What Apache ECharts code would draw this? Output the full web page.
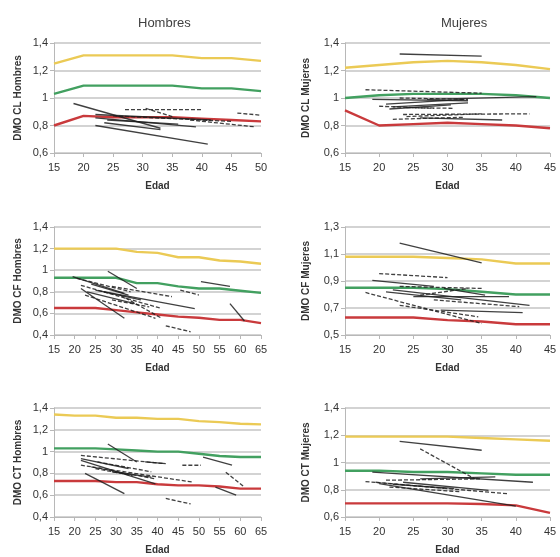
<!DOCTYPE html>
<html>
<head>
<meta charset="utf-8">
<script src="https://cdn.jsdelivr.net/npm/echarts@6/dist/echarts.min.js"></script>
<style>
  html, body { margin: 0; padding: 0; background: #fff; }
  #chart { width: 560px; height: 557px; }
</style>
</head>
<body>
<div id="chart"></div>
<script>
// ages for the reference curves
const agesA = [15, 20, 25, 30, 35, 40, 45, 50];
const agesB = [15, 20, 25, 30, 35, 40, 45];
const agesC = [15, 20, 25, 30, 35, 40, 45, 50, 55, 60, 65];

// DMO CL Hombres
const clHomP97 = [1.25, 1.31, 1.31, 1.31, 1.31, 1.29, 1.29, 1.27];
const clHomP50 = [1.03, 1.09, 1.09, 1.09, 1.09, 1.07, 1.07, 1.05];
const clHomP3  = [0.80, 0.87, 0.86, 0.86, 0.86, 0.85, 0.84, 0.83];
// DMO CL Mujeres
const clMujP97 = [1.22, 1.24, 1.26, 1.27, 1.26, 1.24, 1.21];
const clMujP50 = [1.00, 1.02, 1.03, 1.03, 1.03, 1.02, 1.00];
const clMujP3  = [0.91, 0.80, 0.81, 0.82, 0.81, 0.80, 0.78];
// DMO CF Hombres
const cfHomP97 = [1.20, 1.20, 1.20, 1.20, 1.17, 1.16, 1.12, 1.12, 1.09, 1.08, 1.06];
const cfHomP50 = [0.93, 0.93, 0.93, 0.93, 0.88, 0.88, 0.85, 0.83, 0.83, 0.81, 0.79];
const cfHomP3  = [0.65, 0.65, 0.65, 0.63, 0.61, 0.59, 0.57, 0.56, 0.54, 0.54, 0.51];
// DMO CF Mujeres
const cfMujP97 = [1.08, 1.08, 1.08, 1.07, 1.06, 1.03, 1.03];
const cfMujP50 = [0.85, 0.85, 0.85, 0.84, 0.82, 0.80, 0.80];
const cfMujP3  = [0.63, 0.63, 0.63, 0.61, 0.60, 0.58, 0.58];
// DMO CT Hombres
const ctHomP97 = [1.34, 1.33, 1.33, 1.31, 1.31, 1.30, 1.30, 1.28, 1.27, 1.255, 1.25];
const ctHomP50 = [1.03, 1.03, 1.03, 1.02, 1.01, 1.00, 1.00, 0.98, 0.96, 0.95, 0.95];
const ctHomP3  = [0.73, 0.73, 0.73, 0.72, 0.72, 0.70, 0.69, 0.69, 0.68, 0.66, 0.66];
// DMO CT Mujeres
const ctMujP97 = [1.19, 1.19, 1.19, 1.19, 1.18, 1.17, 1.16];
const ctMujP50 = [0.94, 0.94, 0.93, 0.93, 0.92, 0.91, 0.91];
const ctMujP3  = [0.70, 0.70, 0.70, 0.70, 0.695, 0.685, 0.63];

// individual follow-ups: [edad1, dmo1, edad2, dmo2]
const clHomSeg = [
  [18.3, 0.96, 33, 0.78], [27, 0.915, 40, 0.915], [22, 0.80, 41, 0.665], [46, 0.89, 50, 0.875],
  [22, 0.855, 39, 0.79], [30.5, 0.925, 35, 0.865], [22, 0.88, 41.5, 0.84], [38, 0.84, 49, 0.79],
  [23.5, 0.82, 33, 0.77], [25, 0.87, 45, 0.83], [24, 0.84, 36, 0.81]
];
const clMujSeg = [
  [23, 1.32, 35, 1.305], [18, 1.06, 35, 1.035], [19, 0.99, 33, 0.98], [20, 0.94, 28, 0.925],
  [21, 0.955, 32.5, 0.99], [23.5, 0.88, 42, 0.885], [26, 0.855, 38, 0.84], [24, 0.865, 35, 0.885],
  [21.5, 0.92, 30.5, 0.95], [23, 1.0, 33, 0.99], [27, 0.99, 43, 1.01], [22, 0.845, 32.5, 0.86],
  [22, 0.935, 33, 0.965], [24, 0.93, 31, 0.925]
];
const cfHomSeg = [
  [19.5, 0.94, 32, 0.785], [21.5, 0.86, 41, 0.645], [21.5, 0.83, 32, 0.555], [22.5, 0.77, 39.5, 0.555],
  [25, 0.815, 49, 0.645], [29, 0.85, 43.5, 0.755], [28, 0.99, 35, 0.83], [31, 0.77, 41, 0.555],
  [50.5, 0.895, 57.5, 0.85], [45.5, 0.815, 50, 0.77], [57.5, 0.69, 61, 0.53], [42, 0.485, 48, 0.43],
  [27, 0.80, 36, 0.725], [20.5, 0.925, 33.5, 0.80], [23, 0.80, 34.5, 0.69], [29, 0.725, 38, 0.66],
  [24, 0.87, 33, 0.77]
];
const cfMujSeg = [
  [23, 1.18, 35, 1.035], [20, 0.955, 30, 0.925], [19, 0.905, 28, 0.86], [18, 0.815, 35, 0.585],
  [22, 0.835, 42, 0.72], [23, 0.72, 34.5, 0.635], [29, 0.685, 41, 0.665], [23, 0.86, 35, 0.845],
  [25, 0.785, 39, 0.785], [26, 0.795, 33, 0.845], [21, 0.82, 32, 0.76], [28, 0.76, 40.5, 0.71],
  [29.5, 0.845, 35.5, 0.795]
];
const ctHomSeg = [
  [28, 1.07, 35, 0.905], [21.5, 0.965, 41.5, 0.89], [21.5, 0.92, 39.5, 0.705], [21.5, 0.875, 48.5, 0.72],
  [22.5, 0.80, 32, 0.615], [24, 0.86, 39.5, 0.75], [29, 0.815, 38.5, 0.765], [46, 0.875, 50.5, 0.875],
  [51, 0.95, 58, 0.875], [56.5, 0.81, 61, 0.675], [54, 0.675, 59, 0.60], [42, 0.57, 48, 0.52],
  [37, 0.905, 42, 0.89], [25, 0.845, 34, 0.78], [21.5, 0.935, 33, 0.845], [25.5, 0.905, 38.5, 0.815]
];
const ctMujSeg = [
  [23, 1.155, 35, 1.09], [26, 1.10, 34, 0.88], [19, 0.93, 42.5, 0.855], [18, 0.86, 39, 0.77],
  [20, 0.845, 40, 0.68], [21, 0.87, 35, 0.88], [26, 0.88, 37, 0.895], [21.5, 0.82, 32, 0.785],
  [23.5, 0.855, 36, 0.795], [19.5, 0.855, 29.5, 0.81], [22, 0.84, 31, 0.81]
];

const panels = [
  { name: 'DMO CL Hombres', ages: agesA, p97: clHomP97, p50: clHomP50, p3: clHomP3, seg: clHomSeg, xMax: 50, yMin: 0.6, yMax: 1.4 },
  { name: 'DMO CL Mujeres', ages: agesB, p97: clMujP97, p50: clMujP50, p3: clMujP3, seg: clMujSeg, xMax: 45, yMin: 0.6, yMax: 1.4 },
  { name: 'DMO CF Hombres', ages: agesC, p97: cfHomP97, p50: cfHomP50, p3: cfHomP3, seg: cfHomSeg, xMax: 65, yMin: 0.4, yMax: 1.4 },
  { name: 'DMO CF Mujeres', ages: agesB, p97: cfMujP97, p50: cfMujP50, p3: cfMujP3, seg: cfMujSeg, xMax: 45, yMin: 0.5, yMax: 1.3 },
  { name: 'DMO CT Hombres', ages: agesC, p97: ctHomP97, p50: ctHomP50, p3: ctHomP3, seg: ctHomSeg, xMax: 65, yMin: 0.4, yMax: 1.4 },
  { name: 'DMO CT Mujeres', ages: agesB, p97: ctMujP97, p50: ctMujP50, p3: ctMujP3, seg: ctMujSeg, xMax: 45, yMin: 0.6, yMax: 1.4 }
];

const gridPos = [
  { left: 54, top: 43, width: 207, height: 110 },
  { left: 345, top: 43, width: 205, height: 110 },
  { left: 54, top: 227, width: 207, height: 108 },
  { left: 345, top: 227, width: 205, height: 108 },
  { left: 54, top: 408, width: 207, height: 109 },
  { left: 345, top: 408, width: 205, height: 109 }
];

const FONT = '"Liberation Sans", Arial, sans-serif';
const axisGrey = '#b8b8b8';
const yellow = '#ebca55';
const green = '#42a060';
const red = '#c93a3c';

const fmt = v => String(+v.toFixed(1)).replace('.', ',');

const grids = [], xAxes = [], yAxes = [], series = [];
panels.forEach((p, i) => {
  grids.push(Object.assign({ containLabel: false }, gridPos[i]));
  xAxes.push({
    gridIndex: i, type: 'value', min: 15, max: p.xMax, interval: 5,
    name: 'Edad', nameLocation: 'middle', nameGap: 28,
    nameTextStyle: { fontFamily: FONT, fontSize: 10, fontWeight: 'bold', color: '#333' },
    axisLine: { show: true, lineStyle: { color: axisGrey, width: 1 } },
    axisTick: { show: true, length: 4, lineStyle: { color: axisGrey } },
    axisLabel: { fontFamily: FONT, fontSize: 11, color: '#333', margin: 9 },
    splitLine: { show: false }
  });
  yAxes.push({
    gridIndex: i, type: 'value', min: p.yMin, max: p.yMax, interval: 0.2,
    name: p.name, nameLocation: 'middle', nameRotate: 90, nameGap: i % 2 ? 34 : 31,
    nameTextStyle: { fontFamily: FONT, fontSize: 10, fontWeight: 'bold', color: '#333' },
    axisLine: { show: true, lineStyle: { color: axisGrey, width: 1 } },
    axisTick: { show: true, length: 4, lineStyle: { color: axisGrey } },
    axisLabel: { fontFamily: FONT, fontSize: 11, color: '#333', margin: 6, formatter: fmt },
    splitLine: { show: true, lineStyle: { color: '#c4c4c4', width: 1.6 } }
  });
  [[p.p97, yellow], [p.p50, green], [p.p3, red]].forEach(([vals, col]) => {
    series.push({
      type: 'line', xAxisIndex: i, yAxisIndex: i, silent: true,
      symbol: 'none', data: p.ages.map((a, k) => [a, vals[k]]),
      lineStyle: { color: col, width: 2.4 }
    });
  });
  p.seg.forEach((s, k) => {
    series.push({
      type: 'line', xAxisIndex: i, yAxisIndex: i, silent: true,
      symbol: 'none', data: [[s[0], s[1]], [s[2], s[3]]],
      lineStyle: { color: '#1e1e1e', width: 1.3, type: k % 2 ? [4, 2] : 'solid', opacity: 0.85 }
    });
  });
});

const chart = echarts.init(document.getElementById('chart'));
chart.setOption({
  animation: false,
  title: [
    { text: 'Hombres', left: 133, top: 12, textStyle: { fontFamily: FONT, fontSize: 13, fontWeight: 'normal', color: '#404040' } },
    { text: 'Mujeres', left: 436, top: 12, textStyle: { fontFamily: FONT, fontSize: 13, fontWeight: 'normal', color: '#404040' } }
  ],
  grid: grids,
  xAxis: xAxes,
  yAxis: yAxes,
  series: series
});
</script>
</body>
</html>
